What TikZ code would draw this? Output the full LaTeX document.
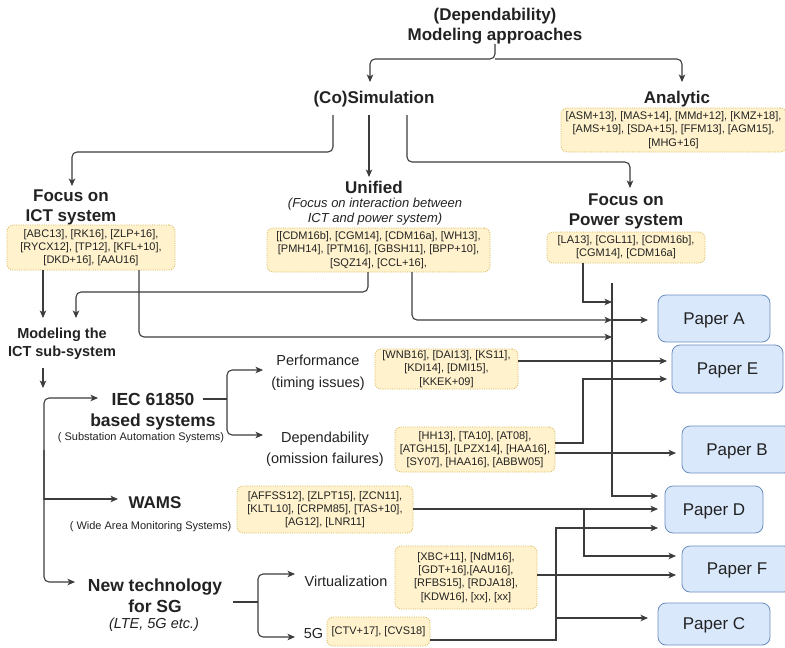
\documentclass[tikz,border=0pt]{standalone}
\usepackage{fontspec}
\setmainfont{Liberation Sans}
\usetikzlibrary{arrows.meta}
\definecolor{yfill}{HTML}{FFF2CC}
\definecolor{ydraw}{HTML}{D6B656}
\definecolor{bfill}{HTML}{DAE8FC}
\definecolor{bdraw}{HTML}{6C8EBF}
\definecolor{ln}{HTML}{3C3C3C}
\definecolor{tx}{HTML}{222222}
\begin{document}
\begin{tikzpicture}[x=1pt,y=-1pt,
 every node/.style={text=tx, inner sep=0pt},
 head/.style={font=\bfseries\fontsize{17}{20}\selectfont, align=center},
 subhead/.style={font=\bfseries\fontsize{14.5}{18}\selectfont, align=center},
 plain/.style={font=\fontsize{14.5}{21.5}\selectfont, align=center},
 small/.style={font=\fontsize{11}{13}\selectfont, align=center},
 refbox/.style={draw=ydraw, fill=yfill, dash pattern=on 1pt off 1.3pt, line width=0.8pt, rounded corners=6pt, font=\fontsize{11}{13.2}\selectfont, align=center},
 paper/.style={draw=bdraw, fill=bfill, line width=0.8pt, rounded corners=8pt, font=\fontsize{17}{20}\selectfont, text depth=0pt},
 con/.style={draw=ln, line width=1.1pt},
 arr/.style={con, -{Stealth[length=7.5pt,width=6.5pt,inset=2pt]}},
 rc/.style={rounded corners=5pt}]
\useasboundingbox (0,0) rectangle (785,648);

% headings
\node[head, font=\bfseries\fontsize{17}{19.5}\selectfont] (title) at (495,26) {(Dependability)\\Modeling approaches};
\node[head] (cosim) at (374,99) {(Co)Simulation};
\node[head] (analytic) at (677,99) {Analytic};
\node[head] (ict) at (71,207) {Focus on\\ICT system};
\node[head] (unified) at (374,187) {Unified};
\node[font=\itshape\fontsize{13}{15}\selectfont, align=center] (unisub) at (375,211.5) {(Focus on interaction between\\ICT and power system)};
\node[head] (power) at (626,211.5) {Focus on\\Power system};
\node[subhead] (modict) at (62,344) {Modeling the\\ICT sub-system};
\node[head, font=\bfseries\fontsize{17.5}{21}\selectfont] (iec) at (153,411.5) {IEC 61850\\based systems};
\node[small] (iecsub) at (141,437.5) {( Substation Automation Systems)};
\node[head] (wams) at (155,503) {WAMS};
\node[small] (wamssub) at (150.5,526.5) {( Wide Area Monitoring Systems)};
\node[head, font=\bfseries\fontsize{17.5}{21}\selectfont] (newtech) at (155,595.5) {New technology\\for SG};
\node[font=\itshape\fontsize{14.5}{17}\selectfont] (lte) at (154,624.5) {(LTE, 5G etc.)};
\node[plain] (perf) at (318,373) {Performance\\(timing issues)};
\node[plain] (dep) at (325,449) {Dependability\\(omission failures)};
\node[plain] (virt) at (346,581) {Virtualization};
\node[plain] (fiveg) at (313.5,634) {5G};

% reference boxes
\node[refbox, minimum width=225pt, minimum height=44pt] (anaref) at (673.5,130) {[ASM+13], [MAS+14], [MMd+12], [KMZ+18],\\{}[AMS+19], [SDA+15], [FFM13], [AGM15],\\{}[MHG+16]};
\node[refbox, minimum width=168pt, minimum height=45pt] (ictref) at (91,247.5) {[ABC13], [RK16], [ZLP+16],\\{}[RYCX12], [TP12], [KFL+10],\\{}[DKD+16], [AAU16]};
\node[refbox, minimum width=223pt, minimum height=44pt] (uniref) at (378.5,250) {[[CDM16b], [CGM14], [CDM16a], [WH13],\\{}[PMH14], [PTM16], [GBSH11], [BPP+10],\\{}[SQZ14], [CCL+16],};
\node[refbox, minimum width=158pt, minimum height=31pt] (powref) at (626,247.5) {[LA13], [CGL11], [CDM16b],\\{}[CGM14], [CDM16a]};
\node[refbox, minimum width=143pt, minimum height=40pt] (perfref) at (446.5,369) {[WNB16], [DAI13], [KS11],\\{}[KDI14], [DMI15],\\{}[KKEK+09]};
\node[refbox, minimum width=160pt, minimum height=45pt] (depref) at (475,449.5) {[HH13], [TA10], [AT08],\\{}[ATGH15], [LPZX14], [HAA16],\\{}[SY07], [HAA16], [ABBW05]};
\node[refbox, minimum width=176pt, minimum height=47pt] (wamsref) at (325,509.5) {[AFFSS12], [ZLPT15], [ZCN11],\\{}[KLTL10], [CRPM85], [TAS+10],\\{}[AG12], [LNR11]};
\node[refbox, minimum width=142pt, minimum height=63pt] (virtref) at (466,577.5) {[XBC+11], [NdM16],\\{}[GDT+16],[AAU16],\\{}[RFBS15], [RDJA18],\\{}[KDW16], [xx], [xx]};
\node[refbox, minimum width=103pt, minimum height=29pt] (fgref) at (378.5,631.5) {[CTV+17], [CVS18]};

% papers
\node[paper, minimum width=112pt, minimum height=47pt] (pA) at (714,318.5) {Paper A};
\node[paper, minimum width=111pt, minimum height=48pt] (pE) at (727.5,369) {Paper E};
\node[paper, minimum width=110pt, minimum height=47pt] (pB) at (737,449.5) {Paper B};
\node[paper, minimum width=98pt, minimum height=47pt] (pD) at (714,509.5) {Paper D};
\node[paper, minimum width=110pt, minimum height=46pt] (pF) at (737,569) {Paper F};
\node[paper, minimum width=112pt, minimum height=42pt] (pC) at (714,624) {Paper C};

% named points
\coordinate (split) at (495,59);
\coordinate (bus) at (612,283);

% connectors top
\draw[arr, rc] (title.south) -- (split) -| (370,82);
\draw[arr, rc] (split) -| (682,82);
\draw[arr, rc] (333,115) -- (333,152) -| (72,186);
\draw[arr] (369,115) -- (369,177);
\draw[arr, rc] (407,115) -- (407,162) -| (630,188);

% into ICT modeling
\draw[arr] (43,270) -- (43,318);
\draw[arr, rc] (368,272) -- (368,292) -| (76,318);
\draw[arr, rc] (139,270) -- (139,337) -- (612,337);
\draw[arr, rc] (412,272) -- (412,320) -- (612,320);
\draw[arr] (583,263) -- (583,302) -- (612,302);
\draw[arr] (bus) -- (612,496) -- (658,496);
\draw[arr] (612,320) -- (648,320);

% ICT sub-system tree
\draw[arr] (43,368) -- (43,388);
\draw[arr, rc] (44,500) |- (98,398);
\draw[arr] (44,499) -- (118,499);
\draw[arr, rc] (44,450) |- (75,582);

% IEC
\draw[con] (203,399) -- (227,399);
\draw[arr, rc] (227,399) |- (263,370);
\draw[arr, rc] (227,399) |- (263,435);
\draw[arr] (518,361) -- (667,361);
\draw[arr] (555,443) -- (583,443) -- (583,379) -- (667,379);
\draw[arr] (555,453) -- (676,453);

% WAMS
\draw[arr] (413,509) -- (658,509);
\draw[arr] (584,509) -- (584,556) -- (676,556);

% new technology
\draw[con] (233,602) -- (258,602);
\draw[arr, rc] (258,602) |- (295,574);
\draw[arr, rc] (258,602) |- (295,637);
\draw[arr] (537,575) -- (676,575);
\draw[arr] (430,640) -- (556,640) -- (556,528) -- (658,528);
\draw[arr] (556,618) -- (648,618);
\end{tikzpicture}
\end{document}
